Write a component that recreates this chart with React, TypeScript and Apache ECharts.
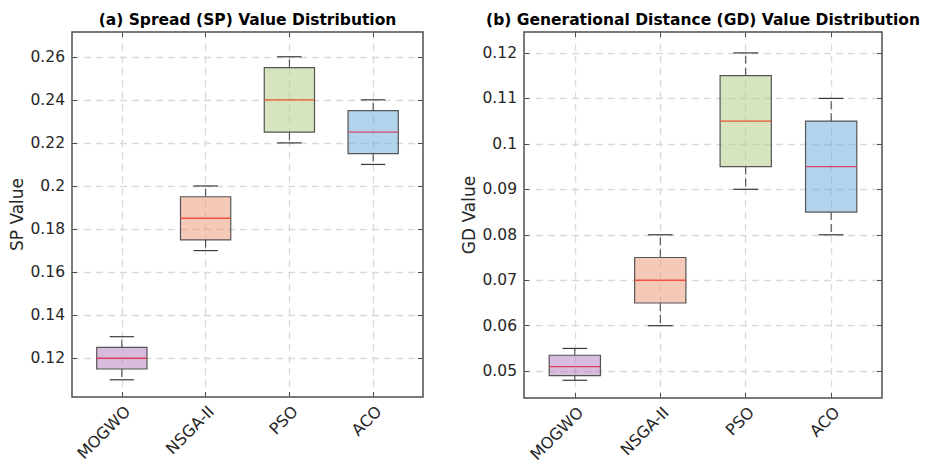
import React, { useEffect, useRef } from 'react';
import * as echarts from 'echarts';

const categories = ['MOGWO', 'NSGA-II', 'PSO', 'ACO'];
const categoryPositions = [1, 2, 3, 4];
// each row: [min, q1, median, q3, max]
const spValues = [
  [0.11, 0.115, 0.12, 0.125, 0.13],
  [0.17, 0.175, 0.185, 0.195, 0.2],
  [0.22, 0.225, 0.24, 0.255, 0.26],
  [0.21, 0.215, 0.225, 0.235, 0.24],
];
const gdValues = [
  [0.048, 0.049, 0.051, 0.0535, 0.055],
  [0.06, 0.065, 0.07, 0.075, 0.08],
  [0.09, 0.095, 0.105, 0.115, 0.12],
  [0.08, 0.085, 0.095, 0.105, 0.11],
];
const spTicks = [0.12, 0.14, 0.16, 0.18, 0.2, 0.22, 0.24, 0.26];
const gdTicks = [0.05, 0.06, 0.07, 0.08, 0.09, 0.1, 0.11, 0.12];
const titles = ['(a) Spread (SP) Value Distribution', '(b) Generational Distance (GD) Value Distribution'];
const yNames = ['SP Value', 'GD Value'];

const boxColors = [
  'rgba(178,122,188,0.5)',
  'rgba(234,148,114,0.5)',
  'rgba(174,202,130,0.5)',
  'rgba(100,168,216,0.5)',
];
const medianColors = ['#e03c62', '#f0503e', '#e6552c', '#d8466c'];

const FONT = '"DejaVu Sans", Arial, Helvetica, sans-serif';
const FRAME = '#4d4d4d';
const TEXT = '#262626';

const fmt = (v: number) => String(parseFloat(Number(v).toFixed(4)));

const renderItem = (params: any, api: any) => {
  const x = api.value(0);
  const lo = api.value(1);
  const q1 = api.value(2);
  const med = api.value(3);
  const q3 = api.value(4);
  const hi = api.value(5);
  const idx = params.dataIndex;
  const unit = api.size([1, 0])[0];
  const halfBox = unit * 0.3;
  const halfCap = unit * 0.145;
  const pLo = api.coord([x, lo]);
  const pQ1 = api.coord([x, q1]);
  const pMed = api.coord([x, med]);
  const pQ3 = api.coord([x, q3]);
  const pHi = api.coord([x, hi]);
  const cx = pLo[0];
  const whisk = { stroke: '#3a3a3a', lineWidth: 1, lineDash: [8, 4] };
  const cap = { stroke: '#3a3a3a', lineWidth: 1.2 };
  return {
    type: 'group',
    children: [
      { type: 'line', shape: { x1: cx, y1: pQ3[1], x2: cx, y2: pHi[1] }, style: whisk },
      { type: 'line', shape: { x1: cx, y1: pQ1[1], x2: cx, y2: pLo[1] }, style: whisk },
      { type: 'line', shape: { x1: cx - halfCap, y1: pHi[1], x2: cx + halfCap, y2: pHi[1] }, style: cap },
      { type: 'line', shape: { x1: cx - halfCap, y1: pLo[1], x2: cx + halfCap, y2: pLo[1] }, style: cap },
      {
        type: 'rect',
        shape: { x: cx - halfBox, y: pQ3[1], width: 2 * halfBox, height: pQ1[1] - pQ3[1] },
        style: { fill: boxColors[idx], stroke: '#555', lineWidth: 1.2 },
      },
      {
        type: 'line',
        shape: { x1: cx - halfBox, y1: pMed[1], x2: cx + halfBox, y2: pMed[1] },
        style: { stroke: medianColors[idx], lineWidth: 1.4 },
      },
    ],
  };
};

export default function App() {
  const ref = useRef<HTMLDivElement>(null);
  useEffect(() => {
    if (!ref.current) return;
    const chart = echarts.init(ref.current, null, { renderer: 'svg' });
    const grids = [
      { left: 72, top: 32, width: 351, height: 365 },
      { left: 524, top: 32, width: 358, height: 366 },
    ];
    const yRanges = [
      [0.102, 0.2715],
      [0.0441, 0.1246],
    ];
    const yTicks = [spTicks, gdTicks];
    const xAxes: any[] = [];
    const yAxes: any[] = [];
    [0, 1].forEach((g) => {
      xAxes.push({
        type: 'value',
        gridIndex: g,
        position: 'bottom',
        min: 0.405,
        max: 4.595,
        axisLine: { show: false },
        axisTick: { inside: true, length: 5, customValues: categoryPositions, lineStyle: { color: FRAME, width: 1 } },
        axisLabel: {
          customValues: categoryPositions,
          formatter: (v: number) => categories[Math.round(v) - 1],
          rotate: 45,
          fontSize: 16,
          color: TEXT,
          fontFamily: FONT,
          margin: 6,
          verticalAlign: 'top',
        },
        splitLine: { show: true, lineStyle: { type: [7, 5], color: '#dadada', width: 1.3 } },
      });
      xAxes.push({
        type: 'value',
        gridIndex: g,
        position: 'top',
        min: 0.405,
        max: 4.595,
        axisLine: { show: false },
        axisTick: { inside: true, length: 5, customValues: categoryPositions, lineStyle: { color: FRAME, width: 1 } },
        axisLabel: { show: false },
        splitLine: { show: false },
      });
      yAxes.push({
        type: 'value',
        gridIndex: g,
        position: 'left',
        min: yRanges[g][0],
        max: yRanges[g][1],
        name: yNames[g],
        nameLocation: 'middle',
        nameGap: 47,
        nameTextStyle: { fontSize: 17, color: TEXT, fontFamily: FONT },
        axisLine: { show: false },
        axisTick: { inside: true, length: 5, customValues: yTicks[g], lineStyle: { color: FRAME, width: 1 } },
        axisLabel: { customValues: yTicks[g], formatter: fmt, fontSize: 15.5, color: TEXT, fontFamily: FONT, margin: 7 },
        splitLine: { show: true, lineStyle: { type: [7, 5], color: '#dadada', width: 1.3 } },
      });
      yAxes.push({
        type: 'value',
        gridIndex: g,
        position: 'right',
        min: yRanges[g][0],
        max: yRanges[g][1],
        axisLine: { show: false },
        axisTick: { inside: true, length: 5, customValues: yTicks[g], lineStyle: { color: FRAME, width: 1 } },
        axisLabel: { show: false },
        splitLine: { show: false },
      });
    });
    const toData = (vals: number[][]) => vals.map((r, i) => [categoryPositions[i], ...r]);
    chart.setOption({
      animation: false,
      backgroundColor: '#fff',
      grid: grids.map((g) => ({
        ...g,
        show: true,
        borderColor: FRAME,
        borderWidth: 1.5,
        backgroundColor: 'transparent',
        containLabel: false,
        outerBoundsMode: 'none',
      })),
      xAxis: xAxes,
      yAxis: yAxes,
      graphic: [
        {
          type: 'text',
          x: 247.5,
          y: 20,
          style: { text: titles[0], fontSize: 15.5, fontWeight: 'bold', fontFamily: FONT, fill: '#000', align: 'center', verticalAlign: 'middle' },
        },
        {
          type: 'text',
          x: 703,
          y: 20,
          style: { text: titles[1], fontSize: 15.5, fontWeight: 'bold', fontFamily: FONT, fill: '#000', align: 'center', verticalAlign: 'middle' },
        },
      ],
      series: [
        {
          type: 'custom',
          xAxisIndex: 0,
          yAxisIndex: 0,
          renderItem,
          encode: { x: 0, y: [1, 2, 3, 4, 5] },
          data: toData(spValues),
        },
        {
          type: 'custom',
          xAxisIndex: 2,
          yAxisIndex: 2,
          renderItem,
          encode: { x: 0, y: [1, 2, 3, 4, 5] },
          data: toData(gdValues),
        },
      ],
    });
    return () => chart.dispose();
  }, []);
  return <div ref={ref} style={{ position: 'absolute', left: 0, top: 0, width: 925, height: 465 }} />;
}
